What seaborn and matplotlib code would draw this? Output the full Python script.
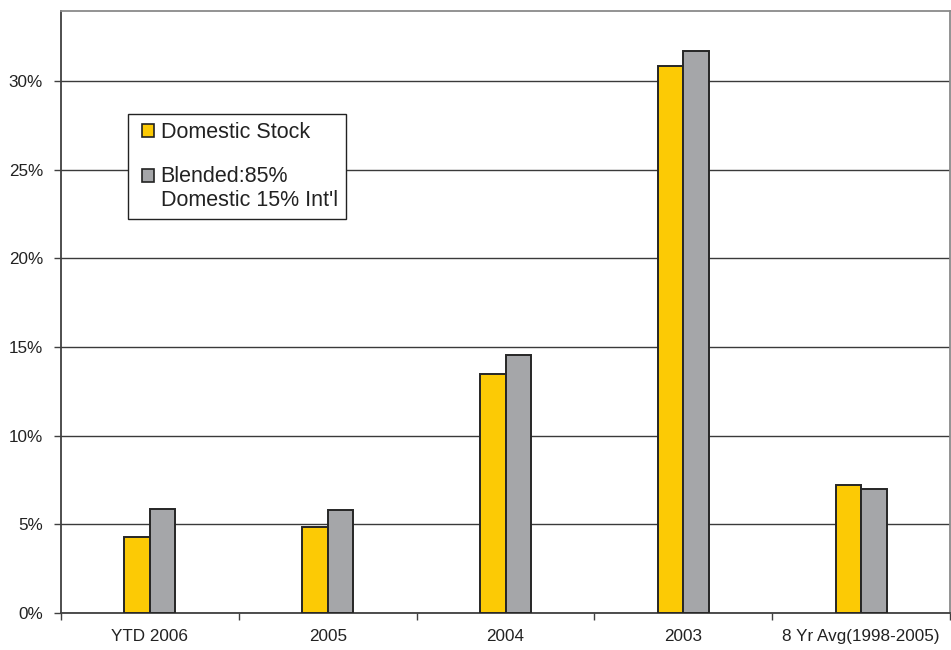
import matplotlib
matplotlib.use("Agg")
import matplotlib.pyplot as plt
import seaborn as sns
import pandas as pd
from matplotlib.patches import Rectangle
from matplotlib.legend_handler import HandlerPatch
from matplotlib.ticker import FuncFormatter, FixedLocator

categories = ["YTD 2006", "2005", "2004", "2003", "8 Yr Avg(1998-2005)"]
series_names = ["Domestic Stock", "Blended:85%\nDomestic 15% Int'l"]
domestic = [4.3, 4.85, 13.5, 30.85, 7.2]
blended = [5.85, 5.8, 14.55, 31.7, 7.0]
yticks = [0, 5, 10, 15, 20, 25, 30]
colors = ["#FCCA05", "#A5A6A9"]

sns.set_theme(style="white")
plt.rcParams["font.family"] = ["Liberation Sans", "DejaVu Sans"]

df = pd.DataFrame({
    "category": categories * 2,
    "series": [series_names[0]] * len(categories) + [series_names[1]] * len(categories),
    "value": domestic + blended,
})

fig = plt.figure(figsize=(9.51, 6.5), dpi=100)
ax = fig.add_axes([61 / 951, (650 - 612.7) / 650, (950 - 61) / 951, (612.7 - 10.5) / 650])

sns.barplot(data=df, x="category", y="value", hue="series", order=categories,
            hue_order=series_names, palette=colors, width=0.287, gap=0,
            edgecolor="#262626", linewidth=1.4, saturation=1, ax=ax, zorder=3)

ax.set_ylim(0, 34)
ax.set_xlim(-0.5, len(categories) - 0.5)
ax.yaxis.set_major_locator(FixedLocator(yticks))
ax.yaxis.set_major_formatter(FuncFormatter(lambda v, p: f"{int(v)}%"))
ax.grid(axis="y", color="#3a3a3a", linewidth=1.0, zorder=0)
ax.set_axisbelow(True)
ax.set_xlabel("")
ax.set_ylabel("")

ax.tick_params(axis="y", which="major", length=5, width=1, color="#404040",
               direction="out", left=True, pad=8, labelsize=12.3, labelcolor="#222222")
ax.tick_params(axis="x", which="major", length=0, pad=12, labelsize=12.3, labelcolor="#222222")
ax.set_xticks([i - 0.5 for i in range(len(categories) + 1)], minor=True)
ax.tick_params(axis="x", which="minor", length=5, width=1, color="#404040",
               direction="out", bottom=True)

for side in ["left", "bottom"]:
    ax.spines[side].set_color("#404040")
    ax.spines[side].set_linewidth(1.3)
for side in ["top", "right"]:
    ax.spines[side].set_color("#8a8a8a")
    ax.spines[side].set_linewidth(1.3)

SHIFT = 0.25
HSIZE = 0.56


def make_patch(offset_frac):
    def f(legend, orig_handle, xdescent, ydescent, width, height, fontsize):
        return Rectangle((-xdescent + SHIFT * fontsize, -ydescent + offset_frac * fontsize),
                         HSIZE * fontsize, height)
    return f


handles, labels = ax.get_legend_handles_labels()
hmap = {handles[0]: HandlerPatch(patch_func=make_patch(0.0)),
        handles[1]: HandlerPatch(patch_func=make_patch(0.62))}
leg = ax.legend(handles, labels, loc="upper left",
                bbox_to_anchor=((128 - 61) / 889, (612.7 - 114) / 602.2),
                borderaxespad=0, fontsize=15.5, frameon=True, fancybox=False,
                edgecolor="#222222", framealpha=1, handlelength=HSIZE + SHIFT,
                handleheight=HSIZE, handletextpad=0.33, labelspacing=1.05, borderpad=0.38,
                handler_map=hmap)
leg.get_frame().set_linewidth(1.0)
for t in leg.get_texts():
    t.set_color("#222222")
for h in leg.legend_handles:
    h.set_edgecolor("#222222")
    h.set_linewidth(1.2)

fig.savefig("out.png", dpi=100)
